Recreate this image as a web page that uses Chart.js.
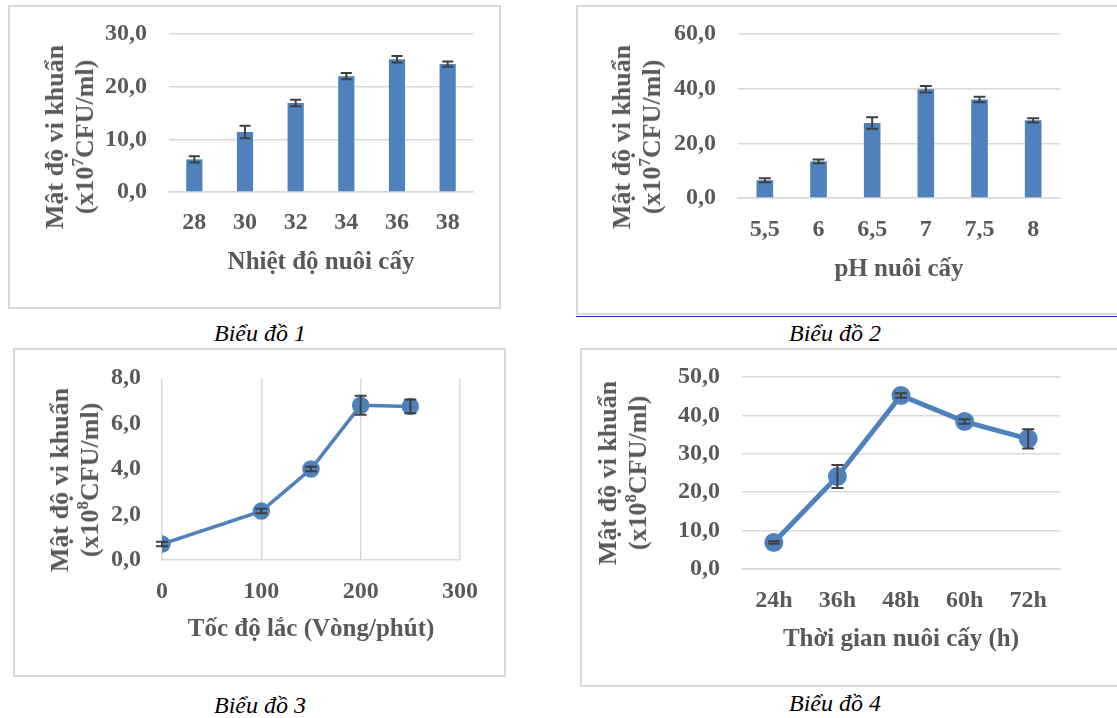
<!doctype html>
<html lang="vi">
<head>
<meta charset="utf-8">
<title>Biểu đồ mật độ vi khuẩn</title>
<script src="https://cdn.jsdelivr.net/npm/chart.js@4.4.0/dist/chart.umd.min.js"></script>
<style>
  body { margin: 0; background: #fff; width: 1117px; height: 718px; overflow: hidden; position: relative; }
  .frame { position: absolute; border: 2px solid #d9d9d9; box-sizing: border-box; }
  .chart { position: absolute; }
  .chart canvas { display: block; }
  .caption { position: absolute; font: italic 24px 'Liberation Serif', 'Times New Roman', serif; color: #000; transform: translate(-50%, -50%); white-space: nowrap; }
  .ytitle { position: absolute; font: bold 26px/30px 'Liberation Serif', 'Times New Roman', serif; color: #595959; text-align: center; white-space: nowrap; transform: translate(-50%, -50%) rotate(-90deg); }
</style>
</head>
<body>
  <div class="frame" style="left:8px;top:5px;width:493px;height:304px"></div>
  <div class="chart" style="left:8px;top:5px"><canvas id="tempChart" width="493" height="304"></canvas></div>

  <div class="frame" style="left:576px;top:5px;width:545px;height:310px"></div>
  <div style="position:absolute;left:576px;top:316px;width:545px;height:1px;background:#1f2fa8"></div>
  <div class="chart" style="left:576px;top:5px"><canvas id="phChart" width="541" height="310"></canvas></div>

  <div class="frame" style="left:13px;top:348px;width:493px;height:329px"></div>
  <div class="chart" style="left:13px;top:348px"><canvas id="speedChart" width="493" height="329"></canvas></div>

  <div class="frame" style="left:580px;top:348px;width:545px;height:339px"></div>
  <div class="chart" style="left:580px;top:348px"><canvas id="timeChart" width="537" height="339"></canvas></div>

  <div class="ytitle" style="left:70px;top:137px">Mật độ vi khuẩn<br>(x10<sup style="font-size:17px;line-height:0">7</sup>CFU/ml)</div>
  <div class="ytitle" style="left:637px;top:137px">Mật độ vi khuẩn<br>(x10<sup style="font-size:17px;line-height:0">7</sup>CFU/ml)</div>
  <div class="ytitle" style="left:75px;top:480px">Mật độ vi khuẩn<br>(x10<sup style="font-size:17px;line-height:0">8</sup>CFU/ml)</div>
  <div class="ytitle" style="left:623px;top:473px">Mật độ vi khuẩn<br>(x10<sup style="font-size:17px;line-height:0">8</sup>CFU/ml)</div>

  <div class="caption" style="left:260px;top:333px">Biểu đồ 1</div>
  <div class="caption" style="left:835px;top:333px">Biểu đồ 2</div>
  <div class="caption" style="left:260px;top:705px">Biểu đồ 3</div>
  <div class="caption" style="left:835px;top:703px">Biểu đồ 4</div>

<script>
  // Biểu đồ 1 - nhiệt độ
  const tempLabels = ['28', '30', '32', '34', '36', '38'];
  const tempValues = [6.2, 11.4, 16.9, 22.0, 25.2, 24.3];
  const tempErrors = [0.6, 1.2, 0.6, 0.6, 0.6, 0.5];
  const tempTicks = [0, 10, 20, 30];

  // Biểu đồ 2 - pH
  const phLabels = ['5,5', '6', '6,5', '7', '7,5', '8'];
  const phValues = [6.5, 13.4, 27.4, 39.8, 36.0, 28.4];
  const phErrors = [0.7, 0.7, 2.1, 1.2, 1.0, 0.8];
  const phTicks = [0, 20, 40, 60];

  // Biểu đồ 3 - tốc độ lắc
  const speedX = [0, 100, 150, 200, 250];
  const speedValues = [0.7, 2.15, 4.0, 6.8, 6.75];
  const speedErrors = [0.1, 0.1, 0.1, 0.42, 0.3];
  const speedYTicks = [0, 2, 4, 6, 8];
  const speedXTicks = [0, 100, 200, 300];

  // Biểu đồ 4 - thời gian
  const timeLabels = ['24h', '36h', '48h', '60h', '72h'];
  const timeValues = [6.9, 24.1, 45.2, 38.4, 33.9];
  const timeErrors = [0.3, 3.0, 0.6, 0.6, 2.5];
  const timeTicks = [0, 10, 20, 30, 40, 50];

  const blue = '#4f81bd';
  const textGrey = '#595959';
  const gridGrey = '#d9d9d9';
  const serif = "'Liberation Serif', 'Times New Roman', serif";

  Chart.defaults.font.family = serif;
  Chart.defaults.color = textGrey;

  const errorBars = {
    id: 'errorBars',
    afterDatasetsDraw(chart, args, opts) {
      const errs = opts.errors;
      if (!errs) return;
      const ctx = chart.ctx;
      const y = chart.scales.y;
      const meta = chart.getDatasetMeta(0);
      const data = chart.data.datasets[0].data;
      const cap = opts.cap || 5.5;
      ctx.save();
      ctx.strokeStyle = '#404040';
      ctx.lineWidth = 2;
      meta.data.forEach((el, i) => {
        const v = typeof data[i] === 'object' ? data[i].y : data[i];
        const top = y.getPixelForValue(v + errs[i]);
        const bot = y.getPixelForValue(v - errs[i]);
        ctx.beginPath();
        ctx.moveTo(el.x, top); ctx.lineTo(el.x, bot);
        ctx.moveTo(el.x - cap, top); ctx.lineTo(el.x + cap, top);
        ctx.moveTo(el.x - cap, bot); ctx.lineTo(el.x + cap, bot);
        ctx.stroke();
      });
      ctx.restore();
    }
  };

  function comma(v) { return Number(v).toFixed(1).replace('.', ','); }

  // y axis: fixed width, labels 22px off the plot (title is the html block)
  function yAxis(ticksArr, width, tickPad, showGrid) {
    return {
      min: ticksArr[0],
      max: ticksArr[ticksArr.length - 1],
      afterBuildTicks: s => { s.ticks = ticksArr.map(v => ({ value: v })); },
      afterFit: s => { s.width = width; s.paddingTop = 0; s.paddingBottom = 0; },
      grid: { display: showGrid, color: gridGrey, lineWidth: 1.5, drawTicks: false },
      border: { display: false },
      ticks: { padding: tickPad, font: { size: 24, weight: 'bold', lineHeight: 1.2 }, callback: comma }
    };
  }

  function xAxis(height, tickPad, text, titleBottom, extra) {
    return Object.assign({
      afterFit: s => { s.height = height; },
      grid: { display: false, drawTicks: false },
      border: { color: gridGrey, width: 1.5 },
      ticks: { padding: tickPad, font: { size: 24, weight: 'bold', lineHeight: 1.2 } },
      title: {
        display: true,
        text: text,
        font: { size: 25, weight: 'bold', lineHeight: 1.2 },
        padding: { top: 0, bottom: titleBottom }
      }
    }, extra || {});
  }

  // chart 1
  new Chart(document.getElementById('tempChart'), {
    type: 'bar',
    data: {
      labels: tempLabels,
      datasets: [{ data: tempValues, backgroundColor: blue, barPercentage: 0.32, categoryPercentage: 1 }]
    },
    options: {
      responsive: false,
      animation: false,
      layout: { padding: { left: 0, top: 29, right: 28, bottom: 0 } },
      plugins: { legend: { display: false }, tooltip: { enabled: false }, errorBars: { errors: tempErrors } },
      scales: {
        x: xAxis(117, 16.6, 'Nhiệt độ nuôi cấy', 31),
        y: yAxis(tempTicks, 161, 22, true)
      }
    },
    plugins: [errorBars]
  });

  // chart 2
  new Chart(document.getElementById('phChart'), {
    type: 'bar',
    data: {
      labels: phLabels,
      datasets: [{ data: phValues, backgroundColor: blue, barPercentage: 0.31, categoryPercentage: 1 }]
    },
    options: {
      responsive: false,
      animation: false,
      layout: { padding: { left: 0, top: 29, right: 57, bottom: 0 } },
      plugins: { legend: { display: false }, tooltip: { enabled: false }, errorBars: { errors: phErrors, cap: 6 } },
      scales: {
        x: xAxis(117, 17.6, 'pH nuôi cấy', 30),
        y: yAxis(phTicks, 162, 22, true)
      }
    },
    plugins: [errorBars]
  });

  // chart 3
  new Chart(document.getElementById('speedChart'), {
    type: 'line',
    data: {
      datasets: [{
        data: speedX.map((x, i) => ({ x: x, y: speedValues[i] })),
        borderColor: blue,
        backgroundColor: blue,
        borderWidth: 3.5,
        pointRadius: 7,
        pointBackgroundColor: blue,
        pointBorderColor: blue
      }]
    },
    options: {
      responsive: false,
      animation: false,
      layout: { padding: { left: 0, top: 30, right: 46, bottom: 0 } },
      plugins: { legend: { display: false }, tooltip: { enabled: false }, errorBars: { errors: speedErrors, cap: 6 } },
      scales: {
        x: xAxis(117, 17.3, 'Tốc độ lắc (Vòng/phút)', 32, {
          type: 'linear',
          min: 0,
          max: 300,
          afterBuildTicks: s => { s.ticks = speedXTicks.map(v => ({ value: v })); },
          grid: { display: true, color: gridGrey, lineWidth: 1.5, drawTicks: false }
        }),
        y: yAxis(speedYTicks, 149, 21, false)
      }
    },
    plugins: [errorBars]
  });

  // chart 4
  new Chart(document.getElementById('timeChart'), {
    type: 'line',
    data: {
      labels: timeLabels,
      datasets: [{
        data: timeValues,
        borderColor: blue,
        backgroundColor: blue,
        borderWidth: 5,
        pointRadius: 7,
        pointBackgroundColor: blue,
        pointBorderColor: blue
      }]
    },
    options: {
      responsive: false,
      animation: false,
      layout: { padding: { left: 0, top: 29, right: 57, bottom: 0 } },
      plugins: { legend: { display: false }, tooltip: { enabled: false }, errorBars: { errors: timeErrors, cap: 6 } },
      scales: {
        x: xAxis(118, 17.3, 'Thời gian nuôi cấy (h)', 32, { offset: true }),
        y: yAxis(timeTicks, 162, 22, true)
      }
    },
    plugins: [errorBars]
  });
</script>
</body>
</html>
